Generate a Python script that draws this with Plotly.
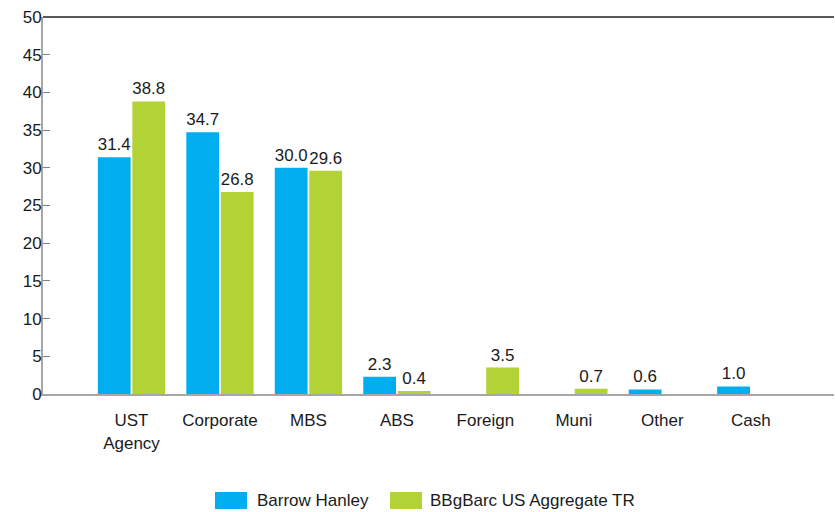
import plotly.graph_objects as go

# Sector allocation (%) by category
categories = ["UST<br>Agency", "Corporate", "MBS", "ABS", "Foreign", "Muni", "Other", "Cash"]
barrow_hanley = [31.4, 34.7, 30.0, 2.3, 0.0, 0.0, 0.6, 1.0]
bbgbarc_agg = [38.8, 26.8, 29.6, 0.4, 3.5, 0.7, 0.0, 0.0]
series_names = ["Barrow Hanley", "BBgBarc US Aggregate TR"]
y_ticks = [0, 5, 10, 15, 20, 25, 30, 35, 40, 45, 50]

BLUE = "#00AEEF"
GREEN = "#B2D235"
TEXT = "#1a1a1a"
FONT = "Liberation Sans, Arial, sans-serif"
SIZE = 17

# Plot-area geometry in pixels (used to place the legend below the axes)
W, H = 835, 512
ML, MR, MT, MB = 43, 1, 17, 118
PW, PH = W - ML - MR, H - MT - MB


def px_x(x):
    return (x - ML) / PW


def px_y(y):
    return (H - MB - y) / PH


def labels(values):
    return [f"{v:.1f}" if v > 0 else "" for v in values]


series = [(series_names[0], barrow_hanley, BLUE),
          (series_names[1], bbgbarc_agg, GREEN)]

fig = go.Figure()
for name, vals, color in series:
    fig.add_trace(go.Bar(
        x=list(range(len(categories))),
        y=vals,
        name=name,
        marker=dict(color=color, line=dict(width=0)),
        text=labels(vals),
        textposition="outside",
        textfont=dict(family=FONT, size=SIZE, color=TEXT),
        cliponaxis=False,
        hoverinfo="skip",
        showlegend=False,
    ))

fig.update_layout(
    width=W,
    height=H,
    margin=dict(l=ML, r=MR, t=MT, b=MB),
    paper_bgcolor="white",
    plot_bgcolor="white",
    barmode="group",
    bargap=0.22,
    bargroupgap=0.05,
    font=dict(family=FONT, size=SIZE, color=TEXT),
    xaxis=dict(
        tickmode="array",
        tickvals=list(range(len(categories))),
        ticktext=categories,
        range=[-1, 7.94],
        showline=True,
        linecolor="#a6a6a6",
        linewidth=2,
        ticks="",
        showgrid=False,
        zeroline=False,
        tickfont=dict(family=FONT, size=SIZE, color=TEXT),
        ticklabelstandoff=10,
    ),
    yaxis=dict(
        range=[0, 50],
        tickmode="array",
        tickvals=y_ticks,
        showline=True,
        linecolor="#a6a6a6",
        linewidth=2,
        ticks="inside",
        ticklen=7,
        tickwidth=1,
        tickcolor="#808080",
        showgrid=False,
        zeroline=False,
        tickfont=dict(family=FONT, size=SIZE, color=TEXT),
        ticklabelstandoff=-4,
    ),
)

# Top border of the plot area
fig.add_shape(type="line", xref="paper", yref="paper", x0=0, x1=1, y0=1, y1=1,
              line=dict(color="#5a5a5a", width=2))

# Legend below the chart: wide colour swatches followed by series names
for (sx, tx), (name, _, color) in zip([(215, 255), (390, 428)], series):
    fig.add_shape(type="rect", xref="paper", yref="paper",
                  x0=px_x(sx), x1=px_x(sx + 32), y0=px_y(509), y1=px_y(492),
                  fillcolor=color, line=dict(width=0))
    fig.add_annotation(xref="paper", yref="paper", x=px_x(tx), y=px_y(500.5),
                       text=name, showarrow=False, xanchor="left", yanchor="middle",
                       font=dict(family=FONT, size=SIZE, color=TEXT))

fig.write_html("out.html")
